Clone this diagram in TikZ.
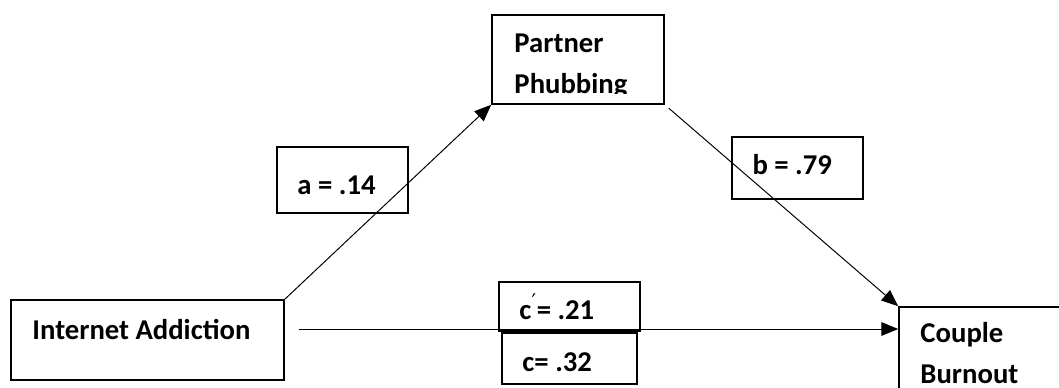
\documentclass[tikz,border=0pt]{standalone}
\usepackage{fontspec}
\setmainfont{Carlito}
\newfontfamily\primefont{DejaVu Sans}
\usetikzlibrary{arrows.meta,positioning}

\tikzset{
  box/.style={draw, line width=1.1pt, inner sep=0pt},
  txt/.style={anchor=base west, inner sep=0pt, align=left,
    font=\bfseries\fontsize{20.4pt}{28.6pt}\selectfont},
  conn/.style={line width=0.7pt, -{Triangle[length=0.42cm,width=0.34cm]}},
}

\begin{document}
\begin{tikzpicture}[x=0.025cm, y=-0.025cm]
    % page frame, the outcome box runs off it
    \clip (0,0) rectangle (1059,388);

    % variable boxes
    \node[box, minimum width=4.3cm, minimum height=2.225cm] (phub) at (578,59.5) {};
    \node[box, minimum width=6.825cm, minimum height=2cm] (inet) at (147.5,340) {};
    \node[box, minimum width=4.4cm, minimum height=2.825cm] (burn) at (987,363.5) {};

    % path coefficient boxes
    \node[box, minimum width=3.275cm, minimum height=1.65cm] (pa) at (342.5,180) {};
    \node[box, minimum width=3.275cm, minimum height=1.55cm] (pb) at (797.5,168) {};
    \node[box, minimum width=3.525cm, minimum height=1.225cm] (pcp) at (569.5,306.5) {};
    \node[box, minimum width=3.375cm, minimum height=1.275cm] (pc) at (569.5,358.5) {};

    % box texts (base of two-line texts is the last line)
    \begin{scope}
      \clip (492,15) rectangle (664,93);
      \node[txt] (phub-t) at ([shift={(23,79)}]phub.north west) {Partner\\Phubbing};
    \end{scope}
    \node[txt] (inet-t) at ([shift={(22,40)}]inet.north west) {Internet Addiction};
    \node[txt] (burn-t) at ([shift={(22,77)}]burn.north west) {Couple\\Burnout};
    \node[txt] (pa-t) at ([shift={(21,48)}]pa.north west) {a = .14};
    \node[txt] (pb-t) at ([shift={(21,38)}]pb.north west) {b = .79};
    \node[txt] (pcp-t) at ([shift={(21,38)}]pcp.north west) {c\textsuperscript{\primefont\mdseries ′}= .21};
    \node[txt] (pc-t) at ([shift={(21,39)}]pc.north west) {c= .32};

    % paths
    \coordinate (cin) at (299,329);
    \draw[conn] (inet.north east) -- (phub.south west);
    \draw[conn, shorten <=0.13cm] (phub.south east) -- (burn.north west);
    \draw[conn] (cin) -- (cin -| burn.west);
\end{tikzpicture}
\end{document}
